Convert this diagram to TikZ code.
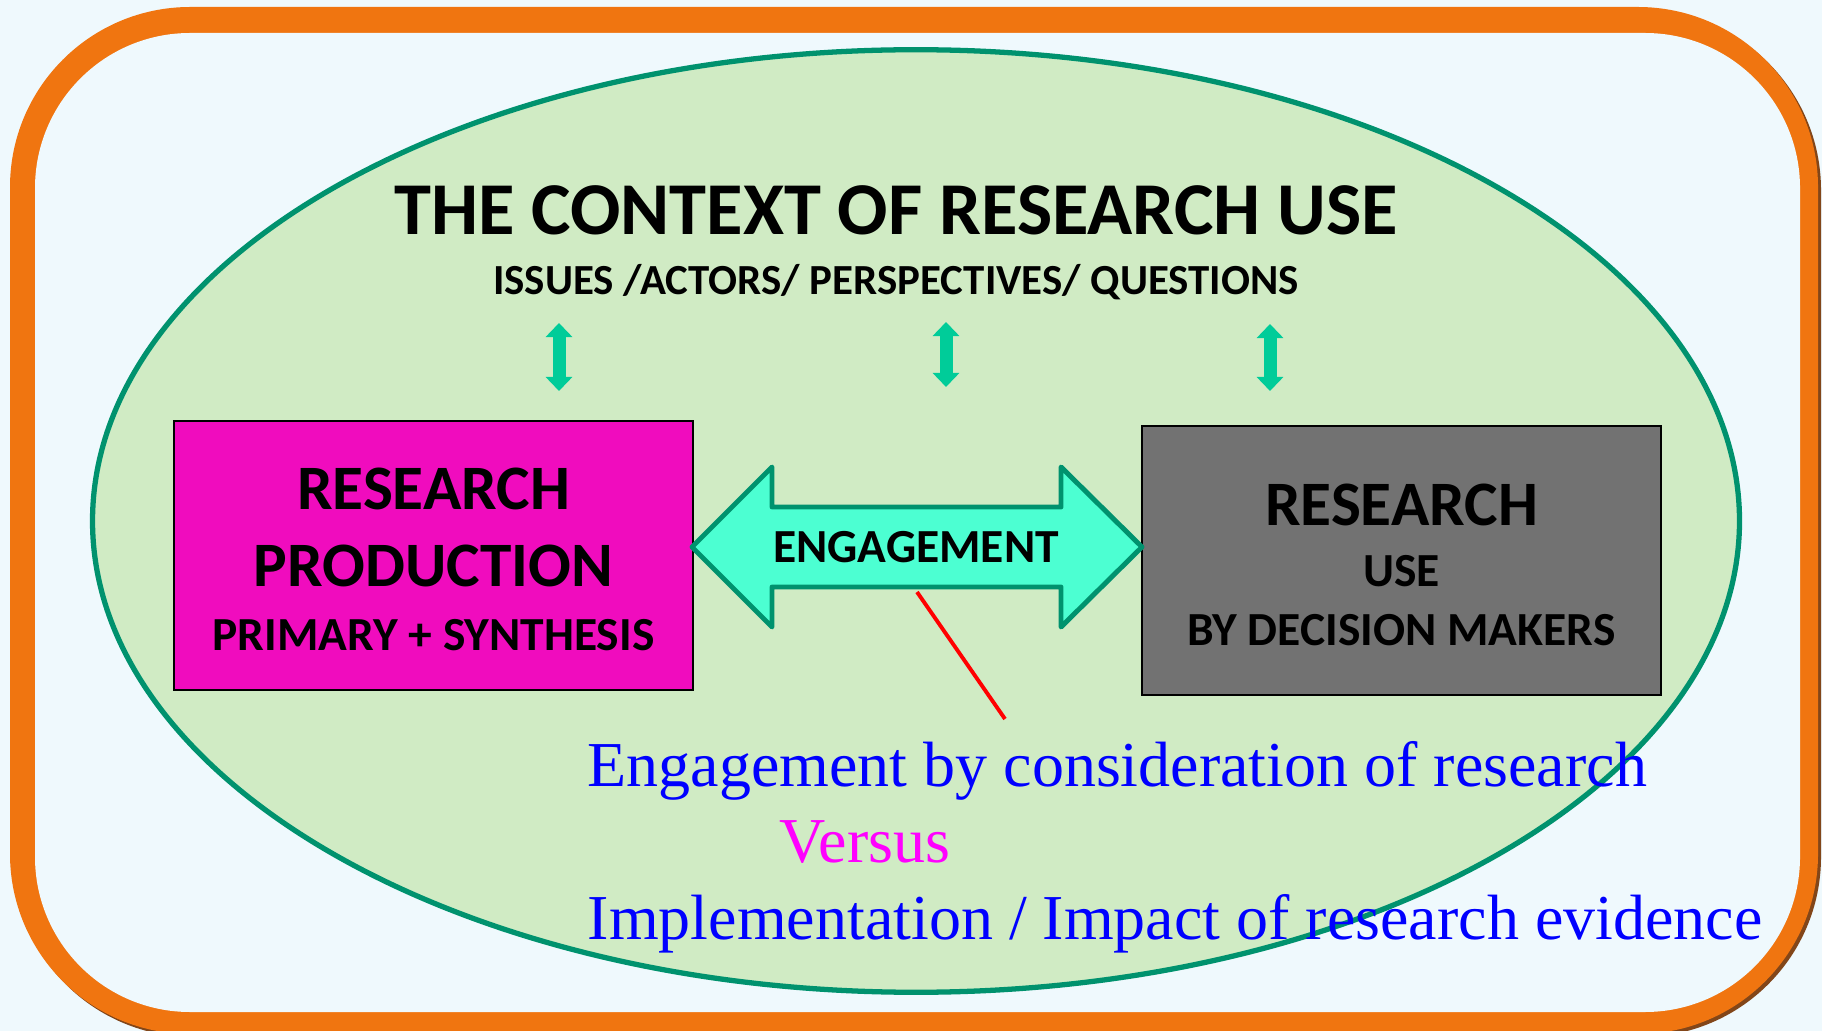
\documentclass[tikz,border=0pt]{standalone}
\usepackage{fontspec}
\setmainfont{Liberation Serif}
\newfontfamily\boxfont{Carlito}
\usetikzlibrary{arrows.meta,positioning}

\definecolor{bgblue}{RGB}{239,249,253}
\definecolor{frameorange}{RGB}{240,117,16}
\definecolor{frameshadow}{RGB}{130,70,25}
\definecolor{ctxgreen}{RGB}{208,235,196}
\definecolor{ctxline}{RGB}{0,146,110}
\definecolor{linkgreen}{RGB}{0,204,153}
\definecolor{prodpink}{RGB}{240,12,190}
\definecolor{usegray}{RGB}{114,114,114}
\definecolor{engaqua}{RGB}{76,255,210}
\definecolor{noteblue}{RGB}{0,0,255}
\definecolor{notemagenta}{RGB}{255,0,255}
\definecolor{pointred}{RGB}{255,0,0}

\begin{document}
\begin{tikzpicture}[x=0.01cm, y=-0.01cm,
    headtext/.style={font=\boxfont\bfseries\fontsize{21.2}{25}\selectfont, inner sep=0pt, anchor=base},
    subtext/.style={font=\boxfont\bfseries\fontsize{12.2}{15}\selectfont, inner sep=0pt, anchor=base},
    bigcaps/.style={font=\boxfont\bfseries\fontsize{18}{22}\selectfont, inner sep=0pt, anchor=base},
    smallcaps/.style={font=\boxfont\bfseries\fontsize{13.5}{16}\selectfont, inner sep=0pt, anchor=base},
    serifline/.style={font=\fontsize{18.2}{22}\selectfont, inner sep=0pt, anchor=base west},
    boxnode/.style={draw=black, line width=0.6pt, minimum width=5.19cm, minimum height=2.69cm, inner sep=0pt},
    linkarrow/.style={linkgreen, line width=3.7pt, {Triangle[width=7.4pt,length=4pt]}-{Triangle[width=7.4pt,length=4pt]}}
  ]
  \useasboundingbox (0,0) rectangle (1822,1031);
  \fill[bgblue] (0,0) rectangle (1822,1031);

  % Frame (with shadow)
  \fill[frameshadow, rounded corners=1.8cm] (13,10) rectangle (1821,1037);
  \fill[frameorange, rounded corners=1.8cm] (10,7) rectangle (1818,1034);
  \fill[bgblue, rounded corners=1.55cm] (35,33) rectangle (1800,1012);

  % Context
  \draw[ctxline, fill=ctxgreen, line width=1.5pt] (916,521) ellipse [x radius=8.23cm, y radius=4.71cm];
  \node[headtext] (context) at (896,235) {THE CONTEXT OF RESEARCH USE};
  \node[subtext] (issues) at (896,295) {ISSUES /ACTORS/ PERSPECTIVES/ QUESTIONS};

  % Links to the context
  \foreach \i/\x/\t/\b in {1/559/323/391, 2/946/322/387, 3/1270/324/391} {
    \coordinate (top\i) at (\x,\t);
    \coordinate (bot\i) at (\x,\b);
    \draw[linkarrow] (top\i) -- (bot\i);
  }

  % Boxes
  \node[boxnode, fill=prodpink] (prod) at (433.5,555.5) {};
  \node[bigcaps] (prod1) at (433.5,510) {RESEARCH};
  \node[bigcaps] (prod2) at (433.5,587) {PRODUCTION};
  \node[smallcaps] (prod3) at (433.5,650) {PRIMARY + SYNTHESIS};

  \node[boxnode, fill=usegray] (use) at (1401.5,560.5) {};
  \node[bigcaps] (use1) at (1401.5,525) {RESEARCH};
  \node[smallcaps] (use2) at (1401.5,587) {USE};
  \node[smallcaps] (use3) at (1401.5,645) {BY DECISION MAKERS};

  % Engagement arrow
  \draw[ctxline, fill=engaqua, line width=1.4pt, line join=round]
    (692,547) -- (772,467) -- (772,507) -- (1061,507) -- (1061,467) -- (1142,547)
    -- (1061,627) -- (1061,587) -- (772,587) -- (772,627) -- cycle;
  \node[smallcaps] (engage) at (916,563) {ENGAGEMENT};

  % Pointer and notes
  \coordinate (tail) at (917,592);
  \coordinate (pin) at (1005,719);
  \draw[pointred, line width=1.1pt] (tail) -- (pin);
  \node[serifline, text=noteblue] (consider) at (587,786) {Engagement by consideration of research};
  \node[serifline, text=notemagenta] (versus) at (779,862) {Versus};
  \node[serifline, text=noteblue] (impact) at (587,939) {Implementation / Impact of research evidence};
\end{tikzpicture}
\end{document}
